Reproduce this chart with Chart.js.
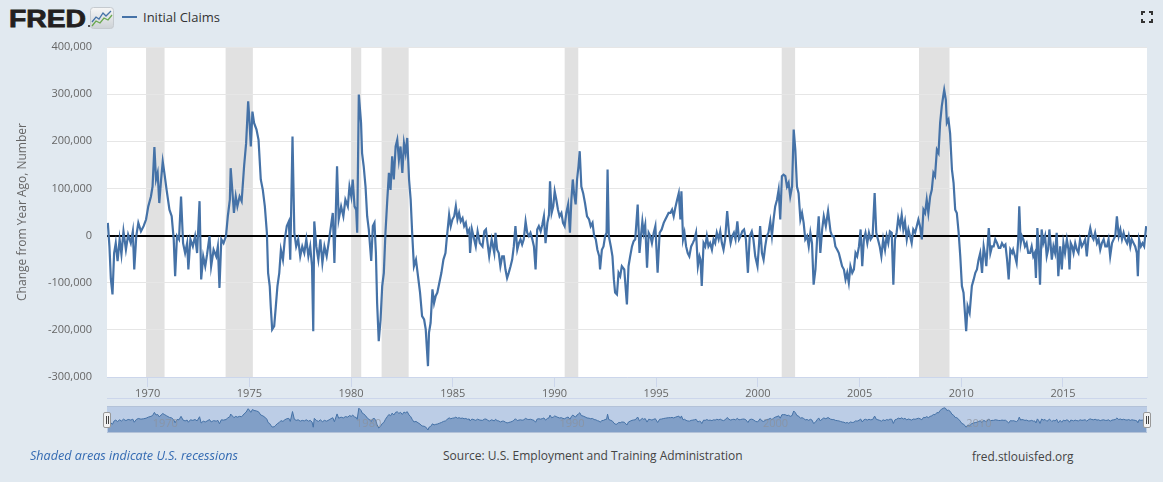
<!DOCTYPE html>
<html>
<head>
<meta charset="utf-8">
<script src="https://cdn.jsdelivr.net/npm/chart.js@4.4.0/dist/chart.umd.min.js"></script>
<style>
html,body{margin:0;padding:0}
body{width:1163px;height:482px;background:#e1e9f0;position:relative;overflow:hidden;font-family:"Open Sans",sans-serif}
#main{position:absolute;left:0;top:0}
#navbox{position:absolute;left:107px;top:406px;width:1040px;height:25px;border-top:1px solid #b3c2d8;border-bottom:1px solid #b3c2d8}
#nav{position:absolute;left:107px;top:407px}
.handle{position:absolute;top:412px;width:8px;height:16px;box-sizing:border-box;background:#f2f2f2;border:1px solid #999;border-radius:2px}
.handle:before,.handle:after{content:"";position:absolute;top:3px;width:1px;height:8px;background:#444}
.handle:before{left:2px}.handle:after{left:4px}
.txt{position:absolute;white-space:nowrap}
</style>
</head>
<body>
<svg width="90" height="30" style="position:absolute;left:8px;top:4px">
  <text x="1" y="22.7" font-family="Liberation Sans, Arial" font-weight="bold" font-size="23.5" textLength="77" lengthAdjust="spacingAndGlyphs" fill="#231f20" stroke="#231f20" stroke-width="0.8">FRED</text>
  <circle cx="81" cy="22" r="1" fill="#231f20"/>
</svg>
<svg width="24" height="22" style="position:absolute;left:90px;top:7px">
  <defs><linearGradient id="g" x1="0" y1="0" x2="0" y2="1"><stop offset="0" stop-color="#f6f6f6"/><stop offset="1" stop-color="#cdd2d6"/></linearGradient></defs>
  <rect x="0.5" y="0.5" width="23" height="21" rx="3" fill="url(#g)" stroke="#c5cacf"/>
  <polyline points="2,15 6,10 9,12 13,6 16,9 21,4" fill="none" stroke="#4572a7" stroke-width="1.3"/>
  <polyline points="2,19 6,14 10,16 14,11 18,13 22,8" fill="none" stroke="#6aa84f" stroke-width="1.3"/>
</svg>
<div style="position:absolute;left:122px;top:16px;width:15px;height:2px;background:#4572a7"></div>
<div class="txt" style="left:143px;top:8px;font-size:13px;line-height:18px;color:#333">Initial Claims</div>
<svg width="12" height="12" style="position:absolute;left:1141px;top:11px" fill="none" stroke="#333" stroke-width="2">
  <path d="M1,4V1H4M8,1H11V4M11,8V11H8M4,11H1V8"/>
</svg>

<canvas id="main" width="1163" height="400"></canvas>
<div style="position:absolute;left:107px;top:398px;width:1040px;height:1px;background:#ccd6eb"></div>
<div id="navbox"></div>
<canvas id="nav" width="1040" height="25"></canvas>
<div class="handle" style="left:103px"></div>
<div class="handle" style="left:1143px"></div>

<div class="txt" style="left:30px;top:448px;font-size:12.6px;line-height:16px;font-style:italic;color:#336ab2">Shaded areas indicate U.S. recessions</div>
<div class="txt" style="left:443px;top:448px;font-size:12px;line-height:16px;color:#444">Source: U.S. Employment and Training Administration</div>
<div class="txt" style="left:972px;top:448px;font-size:11.9px;line-height:16px;color:#444">fred.stlouisfed.org</div>

<script>
// weekly change from year ago (date as decimal year, value in thousands)
var dates = [
1968.04,1968.12,1968.19,1968.27,1968.35,1968.43,1968.52,1968.62,1968.71,1968.81,1968.93,
1969.04,1969.17,1969.27,1969.34,1969.44,1969.54,1969.67,1969.80,1969.92,
1970.03,1970.16,1970.24,1970.33,1970.41,1970.49,1970.57,1970.66,1970.74,1970.82,1970.93,
1971.07,1971.18,1971.28,1971.35,1971.44,1971.54,1971.64,1971.74,1971.84,1971.94,
1972.00,1972.10,1972.22,1972.33,1972.43,1972.55,1972.63,1972.73,1972.83,1972.92,
1973.04,1973.12,1973.24,1973.37,1973.45,1973.53,1973.62,1973.73,1973.85,1973.94,
1974.04,1974.08,1974.16,1974.24,1974.33,1974.41,1974.52,1974.62,1974.74,1974.84,1974.94,
1975.00,1975.07,1975.15,1975.23,1975.35,1975.45,1975.56,1975.66,1975.76,1975.86,1975.92,
1976.00,1976.05,1976.12,1976.22,1976.30,1976.38,1976.47,1976.55,1976.65,1976.74,1976.84,1976.94,
1977.01,1977.12,1977.21,1977.30,1977.40,1977.50,1977.60,1977.70,1977.80,1977.90,1977.99,
1978.08,1978.14,1978.19,1978.29,1978.39,1978.49,1978.59,1978.69,1978.80,1978.92,
1979.01,1979.10,1979.18,1979.31,1979.39,1979.51,1979.62,1979.72,1979.84,1979.92,
1980.01,1980.08,1980.17,1980.25,1980.30,1980.38,1980.49,1980.54,1980.62,1980.71,1980.79,1980.87,1980.99,
1981.07,1981.15,1981.22,1981.28,1981.36,1981.45,1981.53,1981.61,1981.69,1981.78,1981.86,1981.94,
1982.02,1982.10,1982.19,1982.27,1982.35,1982.43,1982.52,1982.60,1982.68,1982.76,1982.85,1982.93,
1983.01,1983.09,1983.19,1983.29,1983.39,1983.49,1983.59,1983.67,1983.78,1983.83,1983.91,
1984.00,1984.08,1984.16,1984.24,1984.34,1984.44,1984.54,1984.64,1984.70,1984.82,1984.90,1984.98,
1985.07,1985.15,1985.23,1985.31,1985.39,1985.48,1985.56,1985.64,1985.72,1985.81,1985.85,1985.94,
1986.05,1986.13,1986.22,1986.33,1986.46,1986.55,1986.63,1986.71,1986.79,1986.91,
1987.04,1987.10,1987.18,1987.26,1987.34,1987.43,1987.51,1987.59,1987.67,1987.75,1987.84,1987.92,
1988.00,1988.08,1988.17,1988.25,1988.33,1988.41,1988.49,1988.58,1988.66,1988.74,1988.82,1988.91,1988.99,
1989.07,1989.15,1989.23,1989.32,1989.40,1989.48,1989.56,1989.65,1989.73,1989.78,1989.86,1989.94,
1990.01,1990.09,1990.17,1990.25,1990.34,1990.42,1990.50,1990.58,1990.67,1990.76,1990.83,1990.90,1990.96,
1991.04,1991.11,1991.18,1991.24,1991.32,1991.41,1991.50,1991.60,1991.70,1991.78,1991.87,1991.95,
1992.03,1992.11,1992.20,1992.24,1992.33,1992.41,1992.49,1992.56,1992.61,1992.67,1992.77,1992.85,1992.92,1992.98,
1993.07,1993.15,1993.23,1993.31,1993.43,1993.56,1993.64,1993.72,1993.81,1993.89,1993.97,
1994.09,1994.18,1994.25,1994.32,1994.38,1994.46,1994.55,1994.63,1994.71,1994.79,1994.88,1994.96,
1995.07,1995.17,1995.27,1995.37,1995.45,1995.53,1995.61,1995.70,1995.78,1995.86,1995.94,
1996.03,1996.11,1996.19,1996.24,1996.32,1996.39,1996.47,1996.55,1996.63,1996.72,1996.80,1996.88,1996.96,
1997.05,1997.13,1997.18,1997.24,1997.33,1997.41,1997.49,1997.57,1997.65,1997.74,1997.82,1997.90,1997.98,
1998.07,1998.15,1998.23,1998.31,1998.39,1998.49,1998.58,1998.66,1998.74,1998.82,1998.90,1998.99,
1999.07,1999.15,1999.23,1999.32,1999.41,1999.51,1999.60,1999.70,1999.78,1999.87,1999.98,
2000.06,2000.11,2000.20,2000.28,2000.36,2000.44,2000.52,2000.61,2000.69,2000.77,2000.85,2000.94,
2001.02,2001.10,2001.18,2001.26,2001.35,2001.43,2001.51,2001.59,2001.68,2001.76,2001.84,2001.92,
2002.00,2002.09,2002.17,2002.25,2002.33,2002.42,2002.50,2002.58,2002.66,2002.74,2002.83,2002.91,2002.99,
2003.07,2003.16,2003.24,2003.34,2003.45,2003.57,2003.65,2003.73,2003.81,2003.90,2003.98,
2004.06,2004.14,2004.23,2004.31,2004.39,2004.47,2004.55,2004.64,2004.72,2004.80,2004.88,2004.97,
2005.05,2005.13,2005.21,2005.29,2005.38,2005.46,2005.54,2005.64,2005.74,2005.82,2005.90,2005.99,
2006.07,2006.16,2006.25,2006.33,2006.41,2006.49,2006.58,2006.66,2006.74,2006.82,2006.90,2006.99,
2007.07,2007.15,2007.23,2007.32,2007.40,2007.48,2007.56,2007.64,2007.73,2007.81,2007.89,2007.97,
2008.06,2008.14,2008.22,2008.30,2008.38,2008.47,2008.55,2008.63,2008.71,2008.80,2008.88,2008.96,
2009.04,2009.11,2009.16,2009.24,2009.29,2009.37,2009.45,2009.54,2009.62,2009.70,2009.78,2009.87,2009.95,
2010.03,2010.11,2010.19,2010.24,2010.31,2010.41,2010.52,2010.61,2010.69,2010.77,2010.85,2010.93,
2011.02,2011.10,2011.18,2011.23,2011.35,2011.43,2011.51,2011.59,2011.67,2011.76,2011.84,2011.92,
2012.00,2012.09,2012.17,2012.25,2012.33,2012.41,2012.50,2012.55,2012.64,2012.72,2012.80,2012.85,2012.92,2012.98,
2013.05,2013.13,2013.21,2013.29,2013.38,2013.46,2013.54,2013.61,2013.67,2013.74,2013.80,2013.87,2013.95,
2014.03,2014.12,2014.20,2014.27,2014.33,2014.40,2014.45,2014.53,2014.61,2014.69,2014.77,2014.86,2014.94,
2015.02,2015.10,2015.19,2015.27,2015.32,2015.38,2015.45,2015.52,2015.60,2015.68,2015.76,2015.84,2015.93,
2016.01,2016.09,2016.17,2016.26,2016.34,2016.42,2016.50,2016.58,2016.67,2016.75,2016.83,2016.91,
2017.00,2017.08,2017.16,2017.24,2017.32,2017.41,2017.49,2017.57,2017.65,2017.74,2017.82,2017.90,2017.98,
2018.06,2018.15,2018.23,2018.31,2018.38,2018.47,2018.55,2018.63,2018.68,2018.74,2018.83,2018.91,2018.99,
2019.09
]
var claimsK = [
27,-23,-92,-125,-37,-16,-54,-8,-40,9,-30,
2,-16,9,-72,-1,27,9,20,34,
62,83,104,188,119,133,69,119,157,133,97,
55,41,-8,-86,-1,-8,83,-16,-37,-16,
-72,-8,-23,-1,-37,73,-93,-44,-65,-40,
-1,-65,-30,-44,-23,-111,-8,-16,-1,41,
76,143,97,48,83,62,83,73,147,196,285,
246,189,263,239,225,203,119,97,62,6,-79,
-107,-150,-199,-192,-150,-107,-79,-30,-51,-8,20,30,
-51,210,6,-23,-8,-44,-23,-37,-8,-44,-23,
-65,-203,30,-23,-51,-8,-58,-23,-44,-8,
20,48,-58,147,34,62,41,76,62,104,
83,119,62,55,6,299,239,175,147,104,41,13,-54,
20,27,-37,-143,-224,-178,-107,-79,6,76,133,97,
168,119,189,203,161,189,133,196,175,207,119,76,
-1,-65,-51,-86,-121,-171,-178,-199,-277,-206,-185,
-114,-143,-128,-121,-100,-79,-51,-37,-8,44,20,34,
41,62,34,48,30,37,20,27,6,13,-37,13,
-8,-23,9,-16,-23,9,13,-16,-44,-8,
-37,6,-30,-37,-65,-44,-44,-72,-90,-79,-65,-51,
-23,20,-30,-16,-8,-19,-8,30,6,-1,6,-8,-23,
-72,13,20,9,23,41,-16,27,44,115,48,62,
94,76,55,41,48,27,20,48,66,6,76,119,90,
66,119,147,179,104,90,69,41,34,20,27,-1,
-8,-30,-44,-72,-30,-23,-1,6,140,-1,-23,-44,-93,-121,
-125,-79,-86,-65,-72,-146,-65,-44,-23,-12,-8,
66,-37,-1,30,6,23,-68,6,-1,-16,6,20,
-79,6,13,27,34,41,48,48,55,41,59,
76,90,34,94,-8,6,-23,-37,-44,-23,-16,-8,6,
-65,-44,-51,-107,-16,-23,-1,-23,-16,-30,-8,-16,6,
-8,9,-16,-30,-8,52,6,-16,-1,6,-8,30,
-8,-1,9,13,-8,-79,-1,9,-8,-44,-65,
-16,20,-37,-51,-23,-1,6,30,-1,34,62,76,
97,34,126,129,126,104,112,83,104,225,182,104,
90,34,48,27,-8,-1,-23,6,-16,-104,-72,-8,41,
-37,13,41,20,52,9,-1,-1,-23,-30,-37,
-51,-65,-72,-93,-79,-100,-65,-79,-72,-37,-44,-23,
13,-65,-8,6,-16,6,-8,-1,90,6,-8,-23,
-44,-8,-30,-1,-16,9,6,-104,-8,6,37,20,
44,13,30,-8,13,-1,-16,13,6,20,34,20,
-8,55,48,76,48,83,97,133,126,182,175,239,
274,295,309,288,239,246,217,140,112,55,48,6,-44,
-107,-121,-171,-203,-150,-164,-107,-93,-79,-72,-51,-37,
-79,-23,-44,-65,16,-37,-23,-23,-8,-16,-26,-26,
-16,-23,-19,-51,-93,-30,-37,-30,-44,-58,-8,62,-16,-1,
-8,-23,-16,-37,-37,-23,-44,-37,-90,16,-23,-104,13,
-16,-1,-44,-30,13,-23,-51,-23,-37,6,-86,-23,-72,
-16,-37,-8,-30,-72,-16,-23,-37,-16,-30,-37,-8,-23,
-16,-8,-44,-1,16,-1,-8,6,-16,-8,-30,-16,
-8,-23,-23,-8,-44,-16,-8,-1,41,-1,13,-8,6,
-8,-16,-1,-23,-8,-16,-23,-37,-86,-8,-23,-16,-23,
20
]

// US recessions (shaded)
var recessionStart = [1969.92, 1973.83, 1980.0, 1981.5, 1990.5, 2001.17, 2007.92]
var recessionEnd   = [1970.83, 1975.17, 1980.5, 1982.83, 1991.17, 2001.83, 2009.42]

var xTicks = [1970, 1975, 1980, 1985, 1990, 1995, 2000, 2005, 2010, 2015]
var navTicks = [1970, 1980, 1990, 2000, 2010]
var xMin = 1968, xMax = 2019.13

var points = []
for (var i = 0; i < Math.min(dates.length, claimsK.length); i++) {
    points.push({x: dates[i], y: claimsK[i] * 1000})
}

var shade = {
    id: 'shade',
    beforeDraw: function(chart) {
        var ctx = chart.ctx, a = chart.chartArea, x = chart.scales.x
        ctx.save()
        ctx.fillStyle = '#fff'
        ctx.fillRect(a.left, a.top, a.right - a.left, a.bottom - a.top)
        ctx.fillStyle = '#e1e1e1'
        for (var i = 0; i < recessionStart.length; i++) {
            var x0 = x.getPixelForValue(recessionStart[i])
            var x1 = x.getPixelForValue(recessionEnd[i])
            ctx.fillRect(x0, a.top, x1 - x0, a.bottom - a.top)
        }
        ctx.restore()
    }
}

var tickFont = {family: 'Open Sans', size: 11}

var chart = new Chart(document.getElementById('main'), {
    type: 'line',
    data: {
        datasets: [{
            label: 'Initial Claims',
            data: points,
            borderColor: '#4572a7',
            borderWidth: 2.2,
            pointRadius: 0,
            tension: 0,
            fill: false
        }]
    },
    options: {
        responsive: false,
        animation: false,
        layout: {padding: {top: 47, right: 16, bottom: 0, left: 0}},
        plugins: {legend: {display: false}, tooltip: {enabled: false}},
        scales: {
            x: {
                type: 'linear',
                min: xMin,
                max: xMax,
                afterBuildTicks: function(s) { s.ticks = xTicks.map(function(v) { return {value: v} }) },
                afterFit: function(s) { s.height = 23 },
                grid: {drawOnChartArea: false, drawTicks: true, tickLength: 10, color: '#ccd6eb'},
                border: {color: '#ccd6eb'},
                ticks: {color: '#666', font: tickFont, padding: 0, maxRotation: 0, autoSkip: false,
                    callback: function(v) { return String(v) }}
            },
            y: {
                min: -300000,
                max: 400000,
                afterFit: function(s) { s.width = 107 },
                ticks: {stepSize: 100000, color: '#666', font: tickFont, padding: 15,
                    callback: function(v) { return v.toLocaleString('en-US') }},
                grid: {
                    drawTicks: false,
                    color: function(c) { return c.tick && c.tick.value === 0 ? '#000' : '#e6e6e6' },
                    lineWidth: function(c) { return c.tick && c.tick.value === 0 ? 2 : 1 }
                },
                border: {display: false},
                title: {display: true, text: 'Change from Year Ago, Number', color: '#666',
                    font: {family: 'Open Sans', size: 12}, padding: {top: 15, bottom: 0}}
            }
        }
    },
    plugins: [shade]
})

var navDeco = {
    id: 'navDeco',
    beforeDraw: function(c) {
        var ctx = c.ctx
        ctx.save()
        ctx.fillStyle = '#bccde6'
        ctx.fillRect(0, 0, c.width, c.height)
        ctx.restore()
    },
    afterDatasetsDraw: function(c) {
        var ctx = c.ctx, x = c.scales.x
        ctx.save()
        ctx.fillStyle = 'rgba(140,145,155,0.75)'
        ctx.font = '11px "Open Sans"'
        ctx.textBaseline = 'middle'
        navTicks.forEach(function(t) {
            ctx.fillText(String(t), x.getPixelForValue(t) + 5, 17)
        })
        ctx.restore()
    }
}

var nav = new Chart(document.getElementById('nav'), {
    type: 'line',
    data: {
        datasets: [{
            data: points,
            borderColor: '#4572a7',
            borderWidth: 1,
            backgroundColor: 'rgba(69,114,167,0.5)',
            fill: 'start',
            pointRadius: 0,
            tension: 0
        }]
    },
    options: {
        responsive: false,
        animation: false,
        layout: {padding: 0},
        plugins: {legend: {display: false}, tooltip: {enabled: false}},
        scales: {
            x: {type: 'linear', display: false, min: xMin, max: xMax},
            y: {display: false, min: -330000, max: 330000}
        }
    },
    plugins: [navDeco]
})
</script>
</body>
</html>
